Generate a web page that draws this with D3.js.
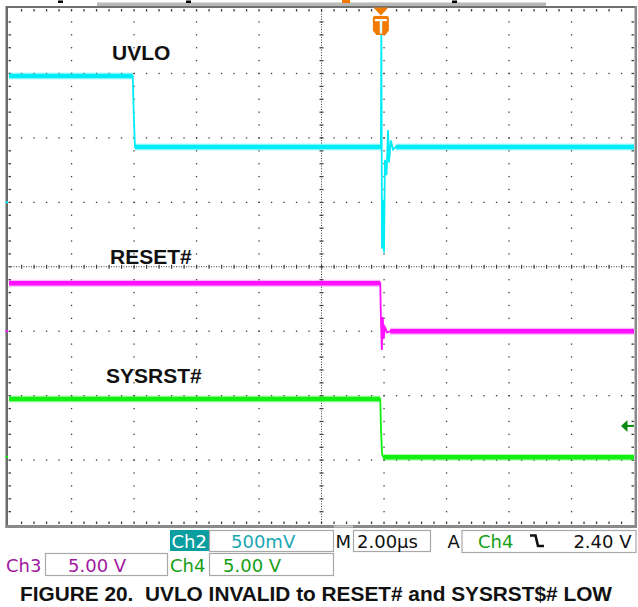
<!DOCTYPE html>
<html><head><meta charset="utf-8">
<script src="https://cdn.jsdelivr.net/npm/d3@7"></script>
<style>body{margin:0;background:#fff}svg{display:block}</style>
</head><body><svg id="c" width="638" height="607"></svg>
<script>
// ---------- data (time in µs from left edge of screen, values in volts) ----------
const uvloTime = [0, 3.96, 3.99, 4.03, 11.90, 11.915, 11.935, 11.97, 12.0, 12.03, 12.08, 12.13, 12.16, 12.22, 12.29, 12.38, 20];
const uvloVolt = [0.98, 0.98, 0.70, 0.43, 0.43, 1.40, -0.36, 0.02, -0.39, 0.33, 0.21, 0.56, 0.31, 0.48, 0.41, 0.43, 0.43];
const resetTime = [0, 11.88, 11.90, 11.93, 11.96, 11.99, 12.03, 12.1, 12.2, 20];
const resetVolt = [3.72, 3.72, 1.1, -1.46, 1.1, -0.6, 0.3, -0.1, 0, 0];
const sysrstTime = [0, 11.88, 11.905, 11.94, 11.98, 20];
const sysrstVolt = [4.48, 4.48, 2.0, 0.2, -0.04, -0.04];
const traceLabels = ["UVLO", "RESET#", "SYSRST#"];
const triggerLevel = 2.40;
const triggerTime = 11.9;
const statusRow1 = ["Ch2", "500mV", "M", "2.00µs", "A", "Ch4", "2.40 V"];
const statusRow2 = ["Ch3", "5.00 V", "Ch4", "5.00 V"];
const caption = "FIGURE 20.  UVLO INVALID to RESET# and SYSRST$# LOW";

// ---------- setup ----------
const svg = d3.select("#c");
svg.append("rect").attr("width",638).attr("height",607).attr("fill","#fff");
const xDiv = d3.scaleLinear().domain([0,10]).range([9,634]);
const yDiv = d3.scaleLinear().domain([-4,4]).range([524.5,9]);
const xTime = d3.scaleLinear().domain([0,20]).range([9,634]);
const ch2 = {offset:1.0, vdiv:0.5, color:"#00ecf8"};
const ch3 = {offset:-1.0, vdiv:5, color:"#ff10ff"};
const ch4 = {offset:-2.95, vdiv:5, color:"#12f012"};
const yOf = ch => v => yDiv(ch.offset + v/ch.vdiv);

// ---------- frame ----------
const g = svg.append("g");
g.append("rect").attr("x",97).attr("y",2.5).attr("width",449).attr("height",4).attr("fill","#b8b8b8");
g.append("rect").attr("x",6).attr("y",6).attr("width",631).attr("height",2).attr("fill","#707070");
g.append("rect").attr("x",5.5).attr("y",6).attr("width",2.5).attr("height",522).attr("fill","#6a6a6a");
g.append("rect").attr("x",634.5).attr("y",6).attr("width",2.5).attr("height",522).attr("fill","#8a8a8a");
g.append("rect").attr("x",5.5).attr("y",525).attr("width",631.5).attr("height",3).attr("fill","#8a8a8a");
g.append("rect").attr("x",334).attr("y",525.5).attr("width",19).attr("height",2).attr("fill","#c8c8c8");
// top markers
[[60,"#000"],[188,"#000"],[454,"#000"]].forEach(([x,c])=>g.append("rect").attr("x",x-2).attr("y",0.5).attr("width",5).attr("height",2.5).attr("fill",c));
g.append("rect").attr("x",342).attr("y",0).attr("width",8).attr("height",3).attr("fill","#f07800");

// ---------- grid ----------
const dotC = "#3c3c3c";
const grid = svg.append("g");
const minorX = d3.range(1,50).map(i=>xDiv(i/5));
const minorY = d3.range(-19,20).map(k=>yDiv(k/5));
// horizontal major lines (dotted)
d3.range(-3,4).filter(j=>j!==0).forEach(j=>{
  grid.selectAll(null).data(minorX).enter().append("rect")
    .attr("x",d=>d-0.6).attr("y",yDiv(j)-0.6).attr("width",1.3).attr("height",1.3).attr("fill",dotC);
});
// vertical major lines (dotted)
d3.range(1,10).filter(i=>i!==5).forEach(i=>{
  grid.selectAll(null).data(minorY).enter().append("rect")
    .attr("x",xDiv(i)-0.6).attr("y",d=>d-0.6).attr("width",1.3).attr("height",1.3).attr("fill",dotC);
});
// center crosshair: fine dots + ticks
const fineX = d3.range(1,250).map(i=>xDiv(i/25));
const fineY = d3.range(-99,100).map(k=>yDiv(k/25));
grid.selectAll(null).data(fineX).enter().append("rect")
  .attr("x",d=>d-0.5).attr("y",yDiv(0)-0.5).attr("width",1).attr("height",1).attr("fill",dotC);
grid.selectAll(null).data(minorX).enter().append("rect")
  .attr("x",d=>d-0.5).attr("y",yDiv(0)-2).attr("width",1.2).attr("height",4).attr("fill",dotC);
grid.selectAll(null).data(fineY).enter().append("rect")
  .attr("x",xDiv(5)-0.5).attr("y",d=>d-0.5).attr("width",1).attr("height",1).attr("fill",dotC);
grid.selectAll(null).data(minorY).enter().append("rect")
  .attr("x",xDiv(5)-2).attr("y",d=>d-0.5).attr("width",4).attr("height",1.2).attr("fill",dotC);
// border ticks
grid.selectAll(null).data(minorX).enter().append("rect")
  .attr("x",d=>d-0.6).attr("y",9).attr("width",1.3).attr("height",2.5).attr("fill",dotC);
grid.selectAll(null).data(minorX).enter().append("rect")
  .attr("x",d=>d-0.6).attr("y",521.5).attr("width",1.3).attr("height",2.5).attr("fill",dotC);
grid.selectAll(null).data(minorY).enter().append("rect")
  .attr("x",8.5).attr("y",d=>d-0.6).attr("width",2.5).attr("height",1.3).attr("fill",dotC);
grid.selectAll(null).data(minorY).enter().append("rect")
  .attr("x",631.5).attr("y",d=>d-0.6).attr("width",2.5).attr("height",1.3).attr("fill",dotC);

// ---------- traces ----------
function drawTrace(times, volts, ch){
  const y = yOf(ch);
  const pts = times.map((t,i)=>[xTime(t), y(volts[i])]);
  const tg = svg.append("g");
  // flat (noisy) levels drawn as a thick band
  for(let i=0;i<pts.length-1;i++){
    if(volts[i]===volts[i+1]){
      tg.append("line").attr("x1",pts[i][0]).attr("x2",pts[i+1][0]).attr("y1",pts[i][1]).attr("y2",pts[i+1][1])
        .attr("stroke",ch.color).attr("stroke-width",7).attr("stroke-opacity",0.3);
      tg.append("line").attr("x1",pts[i][0]).attr("x2",pts[i+1][0]).attr("y1",pts[i][1]).attr("y2",pts[i+1][1])
        .attr("stroke",ch.color).attr("stroke-width",4.5);
    }
  }
  tg.append("path").attr("d",d3.line()(pts)).attr("fill","none").attr("stroke",ch.color).attr("stroke-width",1.8);
  // ground marker on left edge
  svg.append("rect").attr("x",5.5).attr("y",y(0)-1).attr("width",2.5).attr("height",2).attr("fill",ch.color);
}
drawTrace(uvloTime, uvloVolt, ch2);
drawTrace(resetTime, resetVolt, ch3);
drawTrace(sysrstTime, sysrstVolt, ch4);

// ---------- trigger markers ----------
const tx = xTime(triggerTime);
const orange = "#f27a00";
svg.append("path").attr("d",`M${tx-7.5},7.5 L${tx+7.5},7.5 L${tx},15.5 Z`).attr("fill",orange);
svg.append("path").attr("d",`M${tx-8},18 Q${tx-8},16 ${tx-6},16 L${tx+6},16 Q${tx+8},16 ${tx+8},18 L${tx+8},30.5 L${tx+4.5},35 L${tx-4.5},35 L${tx-8},30.5 Z`).attr("fill",orange);
svg.append("rect").attr("x",tx-6).attr("y",19).attr("width",12).attr("height",2.2).attr("fill","#fff");
svg.append("rect").attr("x",tx-1.1).attr("y",19).attr("width",2.4).attr("height",14.5).attr("fill","#e0ffff");
// trigger level arrow (Ch4)
const ty = yOf(ch4)(triggerLevel);
svg.append("path").attr("d",`M621,${ty} L627.5,${ty-6} L627.5,${ty+6} Z`).attr("fill","#0e8a12");
svg.append("rect").attr("x",626).attr("y",ty-1).attr("width",8).attr("height",2).attr("fill","#0e8a12");

// ---------- trace labels ----------
const lab = svg.append("g").attr("font-family","'Liberation Sans', Arial, sans-serif").attr("font-weight","bold").attr("font-size",21).attr("fill","#111");
lab.append("text").attr("x",112).attr("y",60).text(traceLabels[0]);
lab.append("text").attr("x",110).attr("y",263.5).text(traceLabels[1]);
lab.append("text").attr("x",106).attr("y",382.5).text(traceLabels[2]);

// ---------- status bar ----------
const st = svg.append("g").attr("font-family","'DejaVu Sans', sans-serif").attr("font-size",18);
const boxC = "#a8a8a8";
function box(x,y,w,h){ st.append("rect").attr("x",x+0.5).attr("y",y+0.5).attr("width",w).attr("height",h).attr("fill","none").attr("stroke",boxC).attr("stroke-width",1.2); }
// row 1
st.append("rect").attr("x",170).attr("y",530).attr("width",39).attr("height",21).attr("fill","#0a9ea0");
st.append("text").attr("x",171.5).attr("y",548).attr("fill","#fff").text(statusRow1[0]);
box(209,530,124,21);
st.append("text").attr("x",231).attr("y",548).attr("fill","#17a7b2").text(statusRow1[1]);
st.append("text").attr("x",335.5).attr("y",548).attr("fill","#111").text(statusRow1[2]);
box(353,530,77,21);
st.append("text").attr("x",357).attr("y",548).attr("fill","#111").text(statusRow1[3]);
st.append("text").attr("x",447.5).attr("y",548).attr("fill","#111").text(statusRow1[4]);
box(461.5,530,174,22);
st.append("text").attr("x",478).attr("y",548).attr("fill","#16a016").text(statusRow1[5]);
st.append("path").attr("d","M530,535.5 L535.5,535.5 L538,546 L544,546").attr("fill","none").attr("stroke","#111").attr("stroke-width",2.6);
st.append("text").attr("x",631.5).attr("y",548).attr("text-anchor","end").attr("fill","#111").text(statusRow1[6]);
// row 2
st.append("text").attr("x",6).attr("y",572).attr("fill","#a218a0").text(statusRow2[0]);
box(45,553,122,22);
st.append("text").attr("x",68).attr("y",572).attr("fill","#a218a0").text(statusRow2[1]);
st.append("text").attr("x",170).attr("y",572).attr("fill","#16a016").text(statusRow2[2]);
box(209,553,124,22);
st.append("text").attr("x",223).attr("y",572).attr("fill","#16a016").text(statusRow2[3]);

// ---------- caption ----------
svg.append("text").attr("x",20).attr("y",601).attr("font-family","'Liberation Sans', Arial, sans-serif")
  .attr("font-weight","bold").attr("font-size",20.5).attr("fill","#111")
  .attr("textLength",592).attr("lengthAdjust","spacingAndGlyphs").attr("xml:space","preserve").style("white-space","pre").text(caption);
</script></body></html>
